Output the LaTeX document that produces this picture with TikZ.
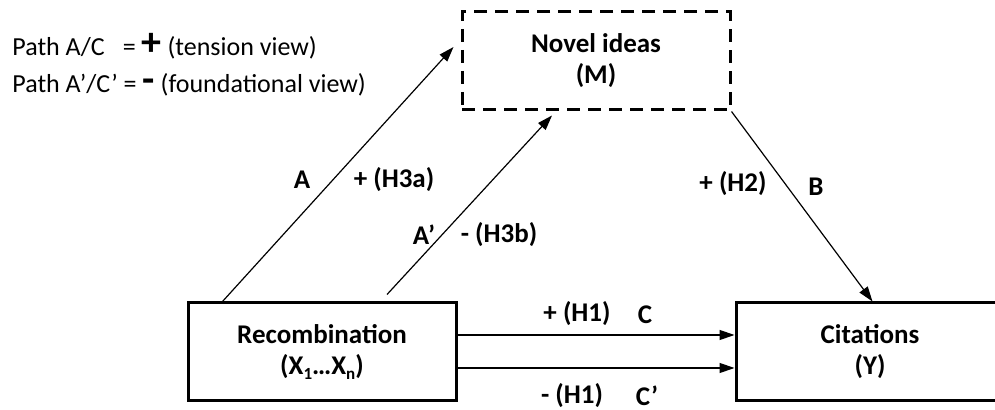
\documentclass[tikz,border=0pt]{standalone}
\usepackage{fontspec}
\setmainfont{Carlito}
\usetikzlibrary{arrows.meta,calc}
\newcommand{\lowsub}[1]{\raisebox{-2.5pt}{\fontsize{8.5}{8.5}\selectfont #1}}
\begin{document}
\begin{tikzpicture}
[
x = 0.5pt, y = -0.5pt,
box/.style = {draw, line width=1.5pt, minimum width=134pt, minimum height=49pt, align=center, inner sep=0pt, font=\fontsize{13.5}{15.5}\selectfont\bfseries},
dbox/.style = {box, dash pattern=on 6.5pt off 4pt},
arr/.style = {-{Triangle[length=7.5pt,width=5pt]}, line width=0.6pt},
lab/.style = {inner sep=0pt, font=\fontsize{13.5}{15}\selectfont\bfseries},
leg/.style = {inner sep=0pt, anchor=base west, font=\fontsize{13}{15}\selectfont}
]
\useasboundingbox (0,0) rectangle (995,410);
\clip (0,0) rectangle (995,410);
\node [box] (rec) at (322,352) {Recombination\\(X\lowsub{1}…X\lowsub{n})};
\node [box] (cit) at (870,352) {Citations\\(Y)};
\node [dbox] (nov) at (596,61) {Novel ideas\\(M)};
\draw [arr] ($(rec.north west)+(36,0)$) -- ($(nov.west)+(-7,-14)$);
\draw [arr] ($(rec.north)+(65,-7)$) -- ($(nov.south)+(-44,4)$);
\draw [arr] (nov.south east) -- ($(cit.north west)+(138,0)$);
\draw [arr] ($(rec.east)+(0,-17)$) -- ($(cit.west)+(0,-17)$);
\draw [arr] ($(rec.east)+(0,16)$) -- ($(cit.west)+(0,16)$);
\node [lab] (la) at (302,180) {A};
\node [lab] (lh3a) at (394,180) {+ (H3a)};
\node [lab] (lap) at (424,235) {A’};
\node [lab] (lh3b) at (499,235) {- (H3b)};
\node [lab] (lh2) at (733,184) {+ (H2)};
\node [lab] (lb) at (816,187) {B};
\node [lab] (lh1) at (577,314) {+ (H1)};
\node [lab] (lc) at (645,315) {C};
\node [lab] (lh1n) at (572,396) {- (H1)};
\node [lab] (lcp) at (647,396) {C’};
\node [leg] (leg1) at (12,56) {Path A/C\phantom{’}\ \ = {\fontsize{20}{20}\selectfont\bfseries +} (tension view)};
\node [leg] (leg2) at (12,93) {Path A’/C’ = {\fontsize{20}{20}\selectfont\bfseries -} (foundational view)};
\end{tikzpicture}
\end{document}
